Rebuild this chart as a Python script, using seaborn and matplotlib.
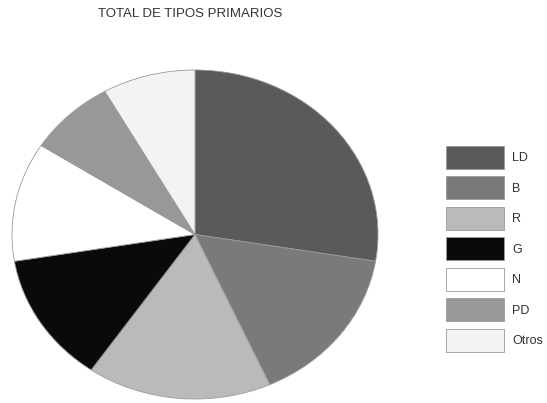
import matplotlib
matplotlib.use("Agg")
import matplotlib.pyplot as plt
import seaborn as sns
from matplotlib.patches import Rectangle

# data (share of the circle, in %)
tipos = ['LD', 'B', 'R', 'G', 'N', 'PD', 'Otros']
valores = [27.6, 15.7, 16.3, 12.8, 11.7, 7.7, 8.2]
colores = ['#5a5a5a', '#7a7a7a', '#bababa', '#0a0a0a', '#ffffff', '#989898', '#f3f3f3']
titulo = 'TOTAL DE TIPOS PRIMARIOS'

sns.set_theme(style='white')
plt.rcParams['font.family'] = ['Liberation Sans', 'DejaVu Sans']

W, H = 547, 403
fig = plt.figure(figsize=(W / 100, H / 100), dpi=100)

# pie axes spans the (slightly oval) pie in the scan
ax = fig.add_axes([12 / W, 4 / H, 366 / W, 329 / H])
wedges, _ = ax.pie(valores, colors=colores, startangle=90, counterclock=False,
                   wedgeprops=dict(edgecolor='#9a9a9a', linewidth=0.6))
ax.set_aspect('auto')
ax.set_xlim(-1.0, 1.0)
ax.set_ylim(-1.0, 1.0)
ax.axis('off')

fig.text(190 / W, 1 - 14 / H, titulo, ha='center', va='center',
         fontsize=9.5, color='#333333')

# legend boxes
handles = [Rectangle((0, 0), 1, 1, facecolor=c, edgecolor='#9a9a9a', linewidth=0.6)
           for c in colores]
fs = 9
leg = fig.legend(handles, tipos, loc='upper left',
                 bbox_to_anchor=(446 / W, 1 - 146 / H),
                 frameon=False, fontsize=fs, borderpad=0, borderaxespad=0,
                 handlelength=4.64, handleheight=2.45, labelspacing=0.6,
                 handletextpad=0.64)
for t in leg.get_texts():
    t.set_color('#333333')

fig.savefig('out.png', dpi=100)
